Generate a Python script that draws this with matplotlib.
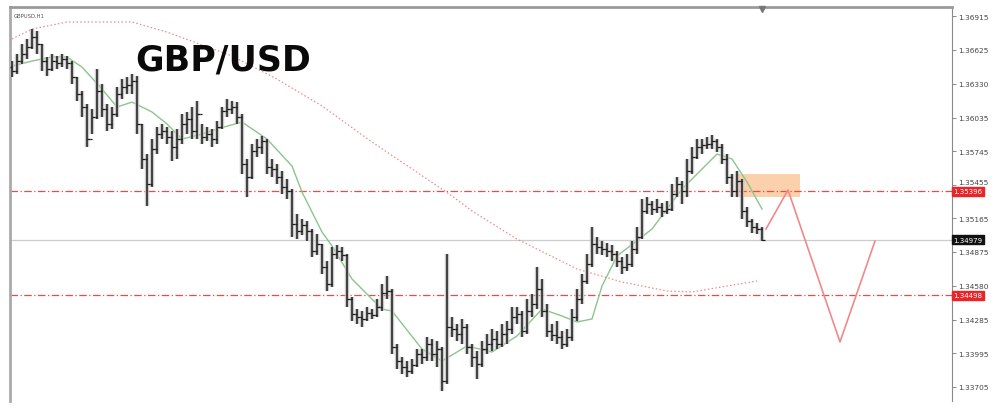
import matplotlib
matplotlib.use("Agg")
import matplotlib.pyplot as plt
import numpy as np

# ---------------- data ----------------
symbol_caption = "GBPUSD,H1"
title_text = "GBP/USD"

closes = [1.36439, 1.36525, 1.36586, 1.36646, 1.36733, 1.36672, 1.36525, 1.36456, 1.36525, 1.36508,
          1.36543, 1.36508, 1.36387, 1.36240, 1.36127, 1.35850, 1.36041, 1.36266, 1.36110, 1.35980,
          1.36066, 1.36240, 1.36300, 1.36318, 1.36352, 1.35980, 1.35677, 1.35460, 1.35763, 1.35893,
          1.35919, 1.35867, 1.35781, 1.35850, 1.35980, 1.36023, 1.35919, 1.36066, 1.35867, 1.35893,
          1.35850, 1.35954, 1.36092, 1.36110, 1.36127, 1.36041, 1.35634, 1.35521, 1.35746, 1.35781,
          1.35833, 1.35608, 1.35590, 1.35521, 1.35435, 1.35400, 1.35114, 1.35054, 1.35106, 1.35054,
          1.34880, 1.34941, 1.34742, 1.34595, 1.34855, 1.34880, 1.34846, 1.34465, 1.34335, 1.34309,
          1.34292, 1.34344, 1.34326, 1.34396, 1.34517, 1.34534, 1.34049, 1.33928, 1.33876, 1.33842,
          1.33893, 1.33989, 1.33963, 1.34075, 1.33989, 1.34032, 1.33755, 1.34223, 1.34205, 1.34162,
          1.34223, 1.34049, 1.33963, 1.33902, 1.34032, 1.34075, 1.34119, 1.34075, 1.34162, 1.34205,
          1.34309, 1.34335, 1.34188, 1.34361, 1.34422, 1.34551, 1.34361, 1.34188, 1.34153, 1.34136,
          1.34075, 1.34136, 1.34309, 1.34465, 1.34621, 1.34768, 1.34941, 1.34915, 1.34898, 1.34880,
          1.34855, 1.34794, 1.34742, 1.34768, 1.34898, 1.35002, 1.35227, 1.35287, 1.35244, 1.35261,
          1.35227, 1.35244, 1.35374, 1.35460, 1.35400, 1.35573, 1.35694, 1.35781, 1.35798, 1.35807,
          1.35833, 1.35781, 1.35677, 1.35521, 1.35400, 1.35486, 1.35227, 1.35140, 1.35088, 1.35071,
          1.34979]

highs = [1.36525, 1.36586, 1.36672, 1.36716, 1.36802, 1.36785, 1.36672, 1.36560, 1.36586, 1.36569,
         1.36586, 1.36569, 1.36525, 1.36387, 1.36266, 1.36153, 1.36110, 1.36456, 1.36326, 1.36153,
         1.36127, 1.36300, 1.36369, 1.36387, 1.36413, 1.36395, 1.35980, 1.35720, 1.35850, 1.35954,
         1.35980, 1.35954, 1.35919, 1.35937, 1.36066, 1.36084, 1.36127, 1.36179, 1.35980, 1.35954,
         1.35937, 1.36006, 1.36127, 1.36196, 1.36179, 1.36170, 1.36066, 1.35677, 1.35807, 1.35850,
         1.35876, 1.35850, 1.35677, 1.35634, 1.35573, 1.35504, 1.35417, 1.35201, 1.35158, 1.35140,
         1.35071, 1.35028, 1.34941, 1.34794, 1.34915, 1.34932, 1.34915, 1.34855, 1.34482, 1.34378,
         1.34361, 1.34396, 1.34378, 1.34465, 1.34595, 1.34664, 1.34551, 1.34075, 1.33963, 1.33928,
         1.33946, 1.34032, 1.34032, 1.34136, 1.34119, 1.34101, 1.34049, 1.34855, 1.34309, 1.34249,
         1.34292, 1.34249, 1.34075, 1.34015, 1.34101, 1.34162, 1.34205, 1.34188, 1.34249, 1.34275,
         1.34396, 1.34396, 1.34361, 1.34465, 1.34508, 1.34742, 1.34638, 1.34422, 1.34249, 1.34275,
         1.34188, 1.34205, 1.34378, 1.34551, 1.34681, 1.34855, 1.35088, 1.35002, 1.34967, 1.34950,
         1.34932, 1.34880, 1.34829, 1.34855, 1.34967, 1.35088, 1.35331, 1.35348, 1.35313, 1.35331,
         1.35296, 1.35313, 1.35460, 1.35521, 1.35486, 1.35677, 1.35781, 1.35850, 1.35850, 1.35867,
         1.35885, 1.35850, 1.35807, 1.35720, 1.35547, 1.35573, 1.35504, 1.35261, 1.35158, 1.35123,
         1.35088]

lows = [1.36387, 1.36413, 1.36499, 1.36543, 1.36629, 1.36586, 1.36439, 1.36395, 1.36439, 1.36456,
        1.36473, 1.36456, 1.36326, 1.36179, 1.36041, 1.35781, 1.35893, 1.36023, 1.36041, 1.35919,
        1.35937, 1.36041, 1.36196, 1.36240, 1.36240, 1.35893, 1.35590, 1.35270, 1.35435, 1.35720,
        1.35850, 1.35807, 1.35660, 1.35677, 1.35807, 1.35893, 1.35850, 1.35850, 1.35807, 1.35833,
        1.35781, 1.35807, 1.35937, 1.36041, 1.36066, 1.35980, 1.35547, 1.35348, 1.35504, 1.35694,
        1.35720, 1.35547, 1.35521, 1.35460, 1.35374, 1.35331, 1.35002, 1.34984, 1.35019, 1.34967,
        1.34829, 1.34846, 1.34681, 1.34534, 1.34569, 1.34811, 1.34794, 1.34396, 1.34275, 1.34249,
        1.34223, 1.34275, 1.34292, 1.34309, 1.34361, 1.34465, 1.33989, 1.33859, 1.33815, 1.33789,
        1.33815, 1.33876, 1.33902, 1.33928, 1.33928, 1.33876, 1.33669, 1.33729, 1.34136, 1.34101,
        1.34075, 1.33989, 1.33876, 1.33772, 1.33876, 1.33989, 1.34015, 1.34032, 1.34049, 1.34075,
        1.34162, 1.34249, 1.34136, 1.34162, 1.34309, 1.34378, 1.34309, 1.34136, 1.34101, 1.34075,
        1.34032, 1.34049, 1.34101, 1.34275, 1.34422, 1.34595, 1.34742, 1.34855, 1.34846, 1.34829,
        1.34794, 1.34742, 1.34681, 1.34707, 1.34742, 1.34855, 1.34984, 1.35201, 1.35192, 1.35209,
        1.35175, 1.35201, 1.35227, 1.35348, 1.35287, 1.35348, 1.35547, 1.35677, 1.35720, 1.35763,
        1.35763, 1.35738, 1.35634, 1.35460, 1.35348, 1.35348, 1.35158, 1.35088, 1.35036, 1.35028,
        1.34967]

first_open = 1.36473
opens = [first_open] + closes[:-1]

# fast moving average (green), sampled at bar indices
fast_ma_idx = [0, 4, 8, 11, 14, 18, 21, 24, 28, 31, 34, 38, 41, 46, 51, 56, 58, 62, 64, 68,
               74, 76, 82, 86, 91, 96, 101, 106, 110, 113, 116, 118, 121, 128, 134, 138, 141, 144, 147, 150]
fast_ma = [1.36482, 1.36525, 1.36560, 1.36560, 1.36473, 1.36283, 1.36127, 1.36170, 1.36084, 1.35980,
           1.35850, 1.35893, 1.35937, 1.35997, 1.35850, 1.35616, 1.35391, 1.35045, 1.34924, 1.34638,
           1.34378, 1.34361, 1.34032, 1.33928, 1.34058, 1.34006, 1.34145, 1.34378, 1.34318, 1.34266,
           1.34292, 1.34577, 1.34837, 1.35071, 1.35417, 1.35590, 1.35720, 1.35677, 1.35478, 1.35244]

# slow moving average (red dotted)
slow_ma_idx = [0, 4, 11, 24, 31, 44, 53, 62, 72, 83, 88, 92, 101, 113, 122, 131, 136, 149]
slow_ma = [1.36716, 1.36802, 1.36863, 1.36863, 1.36776, 1.36569, 1.36369, 1.36136, 1.35824,
           1.35504, 1.35357, 1.35227, 1.34984, 1.34725, 1.34612, 1.34534, 1.34526, 1.34621]

# levels
resistance_level = 1.35396
support_level = 1.34498
bid_price = 1.34979

# supply zone (bar range, price range)
zone_bars = [144.6, 157.6]
zone_prices = [1.35348, 1.35547]

# projected path
proj_idx = [150.8, 155.2, 165.6, 172.6]
proj_price = [1.35071, 1.35409, 1.34093, 1.34967]

ytick_values = [1.36915, 1.36625, 1.36330, 1.36035, 1.35745, 1.35455, 1.35165,
                1.34875, 1.34580, 1.34285, 1.33995, 1.33705]
ytick_labels = ["1.36915", "1.36625", "1.36330", "1.36035", "1.35745", "1.35455", "1.35165",
                "1.34875", "1.34580", "1.34285", "1.33995", "1.33705"]

# ---------------- figure ----------------
fig = plt.figure(figsize=(10, 4.1), dpi=100)
ax = fig.add_axes([0.010, 0.0195, 0.942, 0.961])
ax.set_xlim(-0.4, 188)
ax.set_ylim(1.33582, 1.36993)

idx = np.arange(len(closes))

# supply zone
ax.fill_between(zone_bars, zone_prices[0], zone_prices[1], color="#fbc99c", alpha=0.85,
                linewidth=0, zorder=1)

# level lines
ax.axhline(resistance_level, color="#ec4a4a", lw=0.9, ls=(0, (6, 2, 1, 2)), zorder=2)
ax.axhline(support_level, color="#ec4a4a", lw=0.9, ls=(0, (6, 2, 1, 2)), zorder=2)
ax.axhline(bid_price, color="#cccccc", lw=0.9, zorder=2)

# moving averages
ax.plot(slow_ma_idx, slow_ma, color="#f08a8a", lw=0.9, ls=(0, (1.2, 1.8)), zorder=3)
ax.plot(fast_ma_idx, fast_ma, color="#8cc58c", lw=1.0, zorder=4)

# OHLC bars: soft halo then black bars
ax.vlines(idx, lows, highs, color="#c0c0c0", lw=3.2, alpha=0.8, zorder=5)
ax.vlines(idx, lows, highs, color="#1a1a1a", lw=1.1, zorder=6)
ax.hlines(opens, idx - 0.5, idx, color="#1a1a1a", lw=0.9, zorder=6)
ax.hlines(closes, idx, idx + 0.5, color="#1a1a1a", lw=0.9, zorder=6)

# projection
ax.plot(proj_idx, proj_price, color="#f08a8a", lw=1.2, zorder=7)

# axes styling
ax.spines["bottom"].set_visible(False)
ax.spines["top"].set_color("#9a9a9a")
ax.spines["top"].set_linewidth(2.0)
ax.spines["left"].set_color("#aaaaaa")
ax.spines["left"].set_linewidth(2.0)
ax.spines["right"].set_color("#8a8a8a")
ax.spines["right"].set_linewidth(0.8)
ax.set_xticks([])
ax.yaxis.tick_right()
ax.set_yticks(ytick_values)
ax.set_yticklabels(ytick_labels)
ax.tick_params(axis="y", direction="out", length=3, width=0.6, color="#777777",
               labelsize=5.3, labelcolor="#444444", pad=1.5)
# the label just above the red resistance box sits on its upper edge, as in the reference
for lab in ax.get_yticklabels():
    if lab.get_text() == "1.35455":
        lab.set_va("bottom")

# price labels on the axis
def price_box(val, face):
    ax.text(1.0015, val, f"{val:.5f}", transform=ax.get_yaxis_transform(),
            fontsize=5.0, color="white", va="center", ha="left",
            bbox=dict(boxstyle="square,pad=0.22", fc=face, ec=face), zorder=10, clip_on=False)

price_box(resistance_level, "#e8262a")
price_box(support_level, "#e8262a")
price_box(bid_price, "#111111")

# texts
ax.text(0.004, 0.985, symbol_caption, transform=ax.transAxes, fontsize=3.8, color="#555555",
        va="top", ha="left")
fig.text(0.135, 0.852, title_text, fontsize=25, fontweight="bold", family="DejaVu Sans",
         color="#0a0a0a", va="center", ha="left")

# small marker at the top
ax.plot([149.9], [1.36975], marker="v", color="#777777", markersize=4, clip_on=False, zorder=10)

fig.savefig("out.png", dpi=100)
